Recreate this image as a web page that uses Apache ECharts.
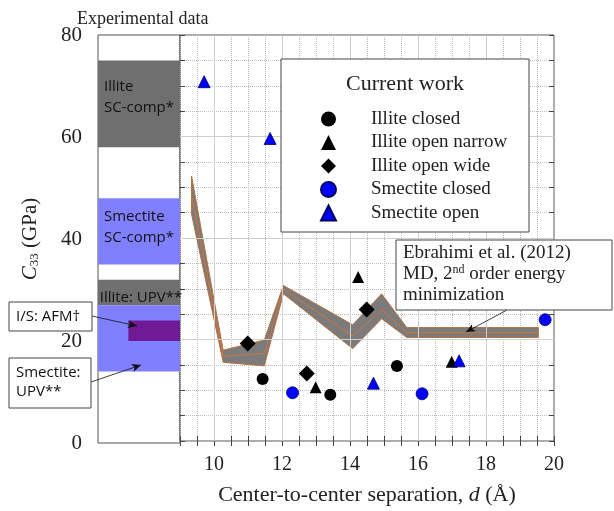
<!DOCTYPE html>
<html>
<head>
<meta charset="utf-8">
<title>C33 vs separation</title>
<script src="https://cdn.jsdelivr.net/npm/echarts@6/dist/echarts.min.js"></script>
<style>
  html, body { margin: 0; padding: 0; background: #fff; }
  #main { width: 614px; height: 511px; }
</style>
</head>
<body>
<div id="main"></div>
<script>
// ---- data ----
var xTicks = [10, 12, 14, 16, 18, 20];
var yTicks = [0, 20, 40, 60, 80];

// experimental ranges (left panel)
var bandNames = ['Illite SC-comp*', 'Smectite SC-comp*', 'Illite: UPV**', 'Smectite: UPV**', 'I/S: AFM†'];
var bandLow   = [58, 35, 27, 14, 20];
var bandHigh  = [75, 48, 32, 27, 24];
var bandFrom  = [0, 0, 0, 0, 0.37];
var bandColors = ['#6f6f6f', '#8080ff', '#6f6f6f', '#8080ff', '#701a96'];

// Ebrahimi et al. (2012) band
var ebX      = [9.34, 10.27, 11.48, 12.04, 14.08, 14.93, 15.67, 19.54];
var ebTop    = [52.2, 17.9, 19.9, 30.65, 22.9, 29.0, 22.35, 22.35];
var ebBottom = [44.7, 15.5, 14.8, 29.0, 18.2, 24.1, 20.4, 20.4];
var ebMid    = [48.4, 16.7, 17.25, 29.9, 20.7, 25.9, 21.4, 21.4];

// current work
var illiteClosedX = [11.43, 13.42, 15.38];
var illiteClosedY = [12.2, 9.1, 14.8];
var illiteNarrowX = [12.99, 14.24, 16.99];
var illiteNarrowY = [10.6, 32.3, 15.6];
var illiteWideX = [10.99, 12.73, 14.49];
var illiteWideY = [19.2, 13.3, 25.9];
var smectiteClosedX = [12.31, 16.12, 19.74];
var smectiteClosedY = [9.5, 9.3, 23.9];
var smectiteOpenX = [9.71, 11.65, 14.69, 17.21];
var smectiteOpenY = [70.8, 59.6, 11.4, 15.8];

function zip(a, b) {
  return a.map(function (v, i) { return [v, b[i]]; });
}

var SERIF = 'Liberation Serif';
var SANS = 'Open Sans';

var myChart = echarts.init(document.getElementById('main'));

var tickStyle = { show: true, inside: true, length: 5, lineStyle: { color: '#444', width: 1 } };

var option = {
  animation: false,
  backgroundColor: '#fff',
  grid: [
    { left: 98, right: 434, top: 35, bottom: 68, show: true, borderColor: '#555', borderWidth: 1, backgroundColor: 'transparent' },
    { left: 180, right: 60, top: 35, bottom: 68, show: true, borderColor: '#555', borderWidth: 1, backgroundColor: 'transparent' }
  ],
  xAxis: [
    { gridIndex: 0, type: 'value', min: 0, max: 1, show: false },
    {
      gridIndex: 1, type: 'value', min: 9, max: 20, interval: 0.5,
      axisLine: { show: false },
      axisTick: tickStyle,
      axisLabel: {
        fontFamily: SERIF, fontSize: 20, color: '#222', margin: 14,
        formatter: function (v) { return xTicks.indexOf(v) >= 0 ? String(v) : ''; }
      },
      splitLine: { show: true, lineStyle: { color: '#bdbdbd', type: 'dotted', width: 1 } },
      name: 'Center-to-center separation, {i|d} (Å)',
      nameLocation: 'middle',
      nameGap: 43,
      nameTextStyle: {
        fontFamily: SERIF, fontSize: 22, color: '#222',
        rich: { i: { fontFamily: SERIF, fontSize: 22, fontStyle: 'italic', color: '#222' } }
      }
    },
    {
      gridIndex: 1, type: 'value', min: 9, max: 20, interval: 0.5, position: 'top',
      axisLine: { show: false }, axisTick: tickStyle, axisLabel: { show: false }, splitLine: { show: false }
    }
  ],
  yAxis: [
    {
      gridIndex: 0, type: 'value', min: 0, max: 80, interval: 20,
      axisLine: { show: false }, axisTick: { show: false },
      axisLabel: { fontFamily: SERIF, fontSize: 21, color: '#222', margin: 16, padding: [5, 0, 0, 0] },
      splitLine: { show: false },
      name: '{i|C}{s|33} (GPa)',
      nameLocation: 'middle',
      nameRotate: 90,
      nameGap: 57,
      nameTextStyle: {
        fontFamily: SERIF, fontSize: 21, color: '#222',
        rich: {
          i: { fontFamily: SERIF, fontSize: 21, fontStyle: 'italic', color: '#222' },
          s: { fontFamily: SERIF, fontSize: 13, color: '#222', verticalAlign: 'bottom', padding: [8, 0, 0, 0] }
        }
      }
    },
    {
      gridIndex: 1, type: 'value', min: 0, max: 80, interval: 5,
      axisLine: { show: false }, axisTick: tickStyle, axisLabel: { show: false },
      splitLine: { show: true, lineStyle: { color: '#bdbdbd', type: 'dotted', width: 1 } }
    },
    {
      gridIndex: 1, type: 'value', min: 0, max: 80, interval: 5, position: 'right',
      axisLine: { show: false }, axisTick: tickStyle, axisLabel: { show: false }, splitLine: { show: false }
    }
  ],
  legend: {
    orient: 'vertical',
    left: 315,
    top: 104,
    itemWidth: 15,
    itemHeight: 15,
    itemGap: 3.5,
    z: 20,
    data: ['Illite closed', 'Illite open narrow', 'Illite open wide', 'Smectite closed', 'Smectite open'],
    textStyle: { fontFamily: SERIF, fontSize: 19, color: '#222', lineHeight: 20, padding: [0, 0, 0, 30] }
  },
  graphic: [
    { type: 'text', left: 77, top: 10, z: 30,
      style: { text: 'Experimental data', fontFamily: SERIF, fontSize: 18, fill: '#222' } },
    // legend frame and heading
    { type: 'rect', shape: { x: 281, y: 59, width: 248, height: 173 }, z: 10,
      style: { fill: '#fff', stroke: '#444', lineWidth: 1 } },
    { type: 'text', x: 405, y: 84, z: 30,
      style: { text: 'Current work', fontFamily: SERIF, fontSize: 22, fill: '#222', align: 'center', verticalAlign: 'middle' } },
    // Ebrahimi box
    { type: 'rect', shape: { x: 396, y: 240, width: 216, height: 70 }, z: 10,
      style: { fill: '#fff', stroke: '#444', lineWidth: 1 } },
    { type: 'text', x: 403, y: 243, z: 30,
      style: {
        text: 'Ebrahimi et al. (2012)\nMD, 2{sup|nd} order energy\nminimization',
        fontFamily: SERIF, fontSize: 19, lineHeight: 21, fill: '#222', verticalAlign: 'top',
        rich: { sup: { fontFamily: SERIF, fontSize: 12, lineHeight: 21, fill: '#222', verticalAlign: 'top', padding: [0, 0, 6, 0] } }
      } },
    // left panel labels
    { type: 'text', x: 104, y: 76, z: 30,
      style: { text: 'Illite\nSC-comp*', fontFamily: SANS, fontSize: 15, lineHeight: 21, fill: '#111' } },
    { type: 'text', x: 104, y: 206, z: 30,
      style: { text: 'Smectite\nSC-comp*', fontFamily: SANS, fontSize: 15, lineHeight: 21, fill: '#111' } },
    { type: 'text', x: 141, y: 298, z: 30,
      style: { text: 'Illite: UPV**', fontFamily: SANS, fontSize: 15, fill: '#111', align: 'center', verticalAlign: 'middle' } },
    // callouts
    { type: 'rect', shape: { x: 9, y: 302, width: 83, height: 29 }, z: 10,
      style: { fill: '#fff', stroke: '#444', lineWidth: 1 } },
    { type: 'text', x: 16, y: 317, z: 30,
      style: { text: 'I/S: AFM†', fontFamily: SANS, fontSize: 15, fill: '#111', verticalAlign: 'middle' } },
    { type: 'rect', shape: { x: 9, y: 358, width: 82, height: 50 }, z: 10,
      style: { fill: '#fff', stroke: '#444', lineWidth: 1 } },
    { type: 'text', x: 16, y: 363, z: 30,
      style: { text: 'Smectite:\nUPV**', fontFamily: SANS, fontSize: 15, lineHeight: 19, fill: '#111' } }
  ],
  series: [
    {
      name: 'experimental',
      type: 'custom',
      xAxisIndex: 0, yAxisIndex: 0,
      silent: true,
      data: bandLow.map(function (v, i) { return [bandFrom[i], v, 1, bandHigh[i]]; }),
      encode: { x: [0, 2], y: [1, 3] },
      renderItem: function (params, api) {
        var p0 = api.coord([api.value(0), api.value(3)]);
        var p1 = api.coord([api.value(2), api.value(1)]);
        return {
          type: 'rect',
          shape: { x: p0[0], y: p0[1], width: p1[0] - p0[0], height: p1[1] - p0[1] },
          style: { fill: bandColors[params.dataIndex] }
        };
      }
    },
    {
      name: 'grid-major',
      type: 'line',
      xAxisIndex: 1, yAxisIndex: 1,
      data: [],
      z: 1,
      silent: true,
      markLine: {
        silent: true,
        symbol: ['none', 'none'],
        label: { show: false },
        lineStyle: { color: '#cfcfcf', type: 'solid', width: 1 },
        data: xTicks.slice(0, -1).map(function (v) { return { xAxis: v }; })
          .concat(yTicks.slice(1, -1).map(function (v) { return { yAxis: v }; }))
      }
    },
    {
      name: 'Ebrahimi band',
      type: 'custom',
      xAxisIndex: 1, yAxisIndex: 1,
      silent: true,
      data: [[ebX[0], ebTop[0]]],
      renderItem: function (params, api) {
        var pts = [];
        for (var i = 0; i < ebX.length; i++) pts.push(api.coord([ebX[i], ebTop[i]]));
        for (var j = ebX.length - 1; j >= 0; j--) pts.push(api.coord([ebX[j], ebBottom[j]]));
        return {
          type: 'polygon',
          shape: { points: pts },
          style: { fill: '#7b7b7b', stroke: '#b8703e', lineWidth: 1 }
        };
      }
    },
    {
      name: 'Ebrahimi mid',
      type: 'line',
      xAxisIndex: 1, yAxisIndex: 1,
      silent: true,
      symbol: 'none',
      lineStyle: { color: '#d2743a', width: 1 },
      data: zip(ebX, ebMid),
      markLine: {
        silent: true,
        symbol: ['none', 'arrow'],
        symbolSize: [6, 9],
        label: { show: false },
        lineStyle: { color: '#111', type: 'solid', width: 0.8 },
        data: [
          [{ x: 507, y: 310 }, { x: 466, y: 332 }],
          [{ x: 92, y: 316 }, { x: 137, y: 326 }],
          [{ x: 91, y: 382 }, { x: 141, y: 365 }]
        ]
      }
    },
    {
      name: 'Illite closed', type: 'scatter', xAxisIndex: 1, yAxisIndex: 1,
      symbol: 'circle', symbolSize: 12, z: 5,
      itemStyle: { color: '#000', opacity: 1 },
      data: zip(illiteClosedX, illiteClosedY)
    },
    {
      name: 'Illite open narrow', type: 'scatter', xAxisIndex: 1, yAxisIndex: 1,
      symbol: 'triangle', symbolSize: 12, z: 5,
      itemStyle: { color: '#000', opacity: 1 },
      data: zip(illiteNarrowX, illiteNarrowY)
    },
    {
      name: 'Illite open wide', type: 'scatter', xAxisIndex: 1, yAxisIndex: 1,
      symbol: 'diamond', symbolSize: 16, z: 5,
      itemStyle: { color: '#000', opacity: 1 },
      data: zip(illiteWideX, illiteWideY)
    },
    {
      name: 'Smectite closed', type: 'scatter', xAxisIndex: 1, yAxisIndex: 1,
      symbol: 'circle', symbolSize: 12, z: 5,
      itemStyle: { color: '#0000ff', borderColor: '#000060', borderWidth: 0.8, opacity: 1 },
      data: zip(smectiteClosedX, smectiteClosedY)
    },
    {
      name: 'Smectite open', type: 'scatter', xAxisIndex: 1, yAxisIndex: 1,
      symbol: 'triangle', symbolSize: 12, z: 5,
      itemStyle: { color: '#0000ff', borderColor: '#000060', borderWidth: 0.8, opacity: 1 },
      data: zip(smectiteOpenX, smectiteOpenY)
    }
  ]
};

myChart.setOption(option);
</script>
</body>
</html>
